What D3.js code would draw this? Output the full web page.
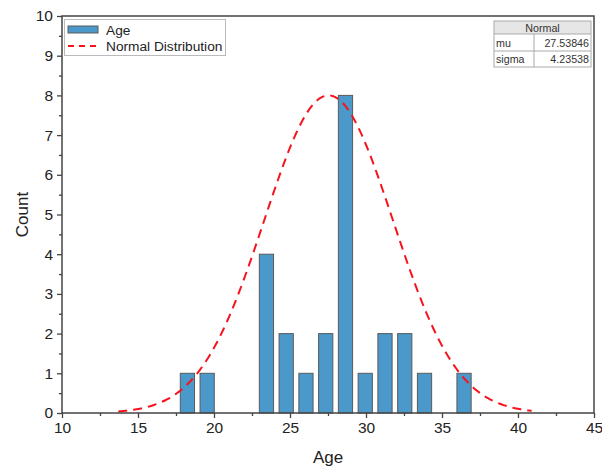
<!DOCTYPE html>
<html>
<head>
<meta charset="utf-8">
<script src="https://cdn.jsdelivr.net/npm/d3@7"></script>
<style>
  body { margin: 0; background: #fff; }
  text { font-family: "Liberation Sans", Arial, sans-serif; }
</style>
</head>
<body>
<div id="chart"></div>
<script>
// histogram bins (start of first bin, bin width, counts per bin)
const binStart = 17.6;
const binWidth = 1.3;
const counts = [1, 1, 0, 0, 4, 2, 1, 2, 8, 1, 2, 2, 1, 0, 1];

// fitted normal
const mu = 27.53846;
const sigma = 4.23538;
const curveRange = [13.7, 40.9];
const curvePeak = 8;

const xTicks = [10, 15, 20, 25, 30, 35, 40, 45];
const yTicks = [0, 1, 2, 3, 4, 5, 6, 7, 8, 9, 10];

const tableRows = [["mu", "27.53846"], ["sigma", "4.23538"]];

const width = 602, height = 469;
const margin = {top: 16, right: 8, bottom: 56, left: 62};

const svg = d3.select('#chart')
  .append('svg')
  .attr('width', width)
  .attr('height', height);

const x = d3.scaleLinear().domain([10, 45]).range([margin.left, width - margin.right]);
const y = d3.scaleLinear().domain([0, 10]).range([height - margin.bottom, margin.top]);

const axisColor = '#444';

// bars
const bins = counts.map((c, i) => ({x0: binStart + i * binWidth, x1: binStart + (i + 1) * binWidth, count: c}))
  .filter(d => d.count > 0);
const barFrac = 0.72;
svg.append('g')
  .selectAll('rect')
  .data(bins)
  .enter()
  .append('rect')
  .attr('x', d => x(d.x0 + binWidth * (1 - barFrac) / 2))
  .attr('width', d => x(d.x0 + binWidth * barFrac) - x(d.x0))
  .attr('y', d => y(d.count))
  .attr('height', d => y(0) - y(d.count))
  .attr('fill', '#4a99ca')
  .attr('stroke', '#5a5a5a')
  .attr('stroke-width', 1);

// normal curve, scaled to peak at curvePeak
const pts = d3.range(curveRange[0], curveRange[1] + 0.001, 0.1)
  .map(v => [v, curvePeak * Math.exp(-0.5 * ((v - mu) / sigma) ** 2)]);
svg.append('path')
  .datum(pts)
  .attr('d', d3.line().x(d => x(d[0])).y(d => y(d[1])).curve(d3.curveMonotoneX))
  .attr('fill', 'none')
  .attr('stroke', '#f5141e')
  .attr('stroke-width', 2)
  .attr('stroke-dasharray', '9,6');

// frame
svg.append('rect')
  .attr('x', x(10)).attr('y', y(10))
  .attr('width', x(45) - x(10)).attr('height', y(0) - y(10))
  .attr('fill', 'none').attr('stroke', axisColor).attr('stroke-width', 1.5);

// x axis
const xAxis = svg.append('g')
  .attr('transform', `translate(0,${y(0)})`)
  .call(d3.axisBottom(x).tickValues(xTicks).tickSize(5).tickPadding(4).tickFormat(d3.format('d')));
svg.append('g')
  .attr('transform', `translate(0,${y(0)})`)
  .call(d3.axisBottom(x).tickValues(d3.range(12.5, 45, 5)).tickSize(3).tickFormat(''))
  .call(g => g.select('.domain').remove())
  .selectAll('line').attr('stroke', axisColor).attr('stroke-width', 1.3);

// y axis
const yAxis = svg.append('g')
  .attr('transform', `translate(${x(10)},0)`)
  .call(d3.axisLeft(y).tickValues(yTicks).tickSize(5).tickPadding(4).tickFormat(d3.format('d')));
svg.append('g')
  .attr('transform', `translate(${x(10)},0)`)
  .call(d3.axisLeft(y).tickValues(d3.range(0.5, 10, 1)).tickSize(3).tickFormat(''))
  .call(g => g.select('.domain').remove())
  .selectAll('line').attr('stroke', axisColor).attr('stroke-width', 1.3);

[xAxis, yAxis].forEach(g => {
  g.select('.domain').remove();
  g.selectAll('line').attr('stroke', axisColor).attr('stroke-width', 1.3);
  g.selectAll('text').attr('font-size', 15.5).attr('fill', '#222')
    .style('font-family', '"Liberation Sans", Arial, sans-serif');
});

// axis titles
svg.append('text')
  .attr('x', (x(10) + x(45)) / 2).attr('y', 463)
  .attr('text-anchor', 'middle').attr('font-size', 17).attr('fill', '#222')
  .text('Age');
svg.append('text')
  .attr('transform', `translate(28,${(y(0) + y(10)) / 2}) rotate(-90)`)
  .attr('text-anchor', 'middle').attr('font-size', 17).attr('fill', '#222')
  .text('Count');

// legend
const legend = svg.append('g');
legend.append('rect')
  .attr('x', 64.5).attr('y', 19.5).attr('width', 161).attr('height', 36)
  .attr('fill', '#fff').attr('stroke', '#bbb').attr('stroke-width', 1);
legend.append('rect')
  .attr('x', 68).attr('y', 26).attr('width', 30).attr('height', 7)
  .attr('fill', '#4a99ca').attr('stroke', '#5a5a5a').attr('stroke-width', 1);
legend.append('line')
  .attr('x1', 68).attr('x2', 98).attr('y1', 46).attr('y2', 46)
  .attr('stroke', '#f5141e').attr('stroke-width', 2).attr('stroke-dasharray', '6,5');
legend.append('text').attr('x', 106).attr('y', 35).attr('font-size', 13.7).attr('fill', '#222').text('Age');
legend.append('text').attr('x', 106).attr('y', 51).attr('font-size', 13.7).attr('fill', '#222').text('Normal Distribution');

// parameter table
const tx = 494, tw = 97, tSplit = 534;
const rowY = [21, 34, 51, 67];
const table = svg.append('g').attr('font-size', 10.7).attr('fill', '#333');
table.append('rect')
  .attr('x', tx).attr('y', rowY[0]).attr('width', tw).attr('height', rowY[1] - rowY[0])
  .attr('fill', '#e6e6e6');
table.append('rect')
  .attr('x', tx).attr('y', rowY[0]).attr('width', tw).attr('height', rowY[3] - rowY[0])
  .attr('fill', 'none').attr('stroke', '#aaa');
rowY.slice(1, 3).forEach(ry => {
  table.append('line').attr('x1', tx).attr('x2', tx + tw).attr('y1', ry).attr('y2', ry).attr('stroke', '#aaa');
});
table.append('line').attr('x1', tSplit).attr('x2', tSplit).attr('y1', rowY[1]).attr('y2', rowY[3]).attr('stroke', '#aaa');
table.append('text').attr('x', tx + tw / 2).attr('y', rowY[0] + 10.5).attr('text-anchor', 'middle').attr('fill', '#333').text('Normal');
tableRows.forEach((r, i) => {
  const by = (rowY[i + 1] + rowY[i + 2]) / 2 + 4;
  table.append('text').attr('x', tx + 2).attr('y', by).attr('fill', '#333').text(r[0]);
  table.append('text').attr('x', tx + tw - 2).attr('y', by).attr('text-anchor', 'end').attr('fill', '#333').text(r[1]);
});
</script>
</body>
</html>
